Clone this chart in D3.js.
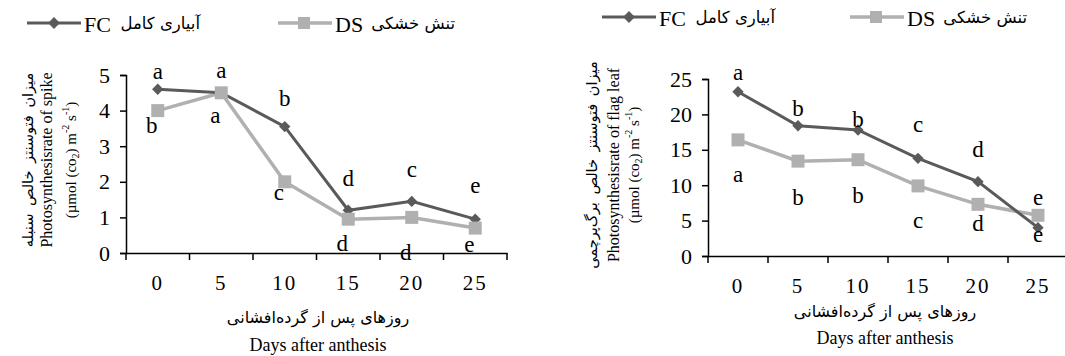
<!DOCTYPE html>
<html>
<head>
<meta charset="utf-8">
<script src="https://cdn.jsdelivr.net/npm/d3@7"></script>
<style>
  body { margin: 0; background: #fff; }
  svg { display: block; }
  text { font-family: "Liberation Serif", "DejaVu Serif", serif; fill: #000; }
  text.fa { font-family: "DejaVu Sans", sans-serif; }
</style>
</head>
<body>
<div id="chart"></div>
<script>
// categories (days after anthesis)
const days = ['0', '5', '10', '15', '20', '25'];

// spike photosynthesis
const spikeFC = [4.6, 4.5, 3.55, 1.2, 1.45, 0.95];
const spikeDS = [4.0, 4.5, 2.0, 0.95, 1.0, 0.7];
const spikeFCLetters = ['a', 'a', 'b', 'd', 'c', 'e'];
const spikeDSLetters = ['b', 'a', 'c', 'd', 'd', 'e'];
const spikeFCLetterAt = [4.9, 4.92, 4.14, 1.89, 2.14, 1.69];
const spikeDSLetterAt = [3.38, 3.66, 1.5, 0.06, -0.19, 0.04];
const spikeTicks = [0, 1, 2, 3, 4, 5];

// flag leaf photosynthesis
const leafFC = [23.2, 18.4, 17.8, 13.8, 10.5, 4.0];
const leafDS = [16.4, 13.4, 13.6, 9.9, 7.3, 5.75];
const leafFCLetters = ['a', 'b', 'b', 'c', 'd', 'e'];
const leafDSLetters = ['a', 'b', 'b', 'c', 'd', 'e'];
const leafFCLetterAt = [24.85, 19.76, 18.2, 17.5, 13.96, 1.94];
const leafDSLetterAt = [10.4, 7.17, 7.45, 3.92, 3.5, 7.17];
const leafTicks = [0, 5, 10, 15, 20, 25];

const fcName = 'آبیاری کامل';
const dsName = 'تنش خشکی';
const xTitleFa = 'روزهای پس از گرده‌افشانی';
const xTitleEn = 'Days after anthesis';

const fcColor = '#5a5a5a';
const dsColor = '#b0b0b0';
const serif = '"Liberation Serif", serif';

const svg = d3.select('#chart').append('svg')
  .attr('width', 1065)
  .attr('height', 356);

function drawLegend(g, legendY, fcX, fcFaEnd, dsX, dsFaEnd) {
  // FC item
  g.append('line')
    .attr('x1', fcX).attr('x2', fcX + 54)
    .attr('y1', legendY).attr('y2', legendY)
    .attr('stroke', fcColor).attr('stroke-width', 3);
  g.append('path')
    .attr('d', d3.symbol(d3.symbolSquare, 70)())
    .attr('transform', `translate(${fcX + 27},${legendY}) rotate(45)`)
    .attr('fill', fcColor);
  g.append('text')
    .attr('x', fcX + 57).attr('y', legendY + 9)
    .style('font-size', '22px')
    .text('FC');
  g.append('text')
    .attr('class', 'fa')
    .attr('x', fcFaEnd).attr('y', legendY + 6)
    .attr('text-anchor', 'end')
    .style('font-size', '16.5px')
    .text(fcName);

  // DS item
  g.append('line')
    .attr('x1', dsX).attr('x2', dsX + 54)
    .attr('y1', legendY).attr('y2', legendY)
    .attr('stroke', dsColor).attr('stroke-width', 3.5);
  g.append('path')
    .attr('d', d3.symbol(d3.symbolSquare, 144)())
    .attr('transform', `translate(${dsX + 26},${legendY})`)
    .attr('fill', dsColor);
  g.append('text')
    .attr('x', dsX + 57).attr('y', legendY + 9)
    .style('font-size', '22px')
    .text('DS');
  g.append('text')
    .attr('class', 'fa')
    .attr('x', dsFaEnd).attr('y', legendY + 6)
    .attr('text-anchor', 'end')
    .style('font-size', '16.5px')
    .text(dsName);
}

function drawPanel(opt) {
  const g = svg.append('g');

  const x = d3.scaleBand()
    .domain(days)
    .range([opt.left, opt.right])
    .padding(0);

  const y = d3.scaleLinear()
    .domain([0, opt.ticks[opt.ticks.length - 1]])
    .range([opt.bottom, opt.top]);

  const cx = d => x(d) + x.bandwidth() / 2;

  // y axis
  const yAxis = g.append('g')
    .attr('transform', `translate(${opt.left},0)`)
    .attr('font-family', serif)
    .call(d3.axisLeft(y).tickValues(opt.ticks).tickFormat(d3.format('d'))
      .tickSize(6).tickPadding(10));
  yAxis.select('.domain').attr('stroke', '#000').attr('stroke-width', 1.5);
  yAxis.selectAll('.tick line').attr('stroke', '#000').attr('stroke-width', 1.5);
  yAxis.selectAll('.tick text')
    .attr('fill', '#000')
    .style('font-size', '22px');

  // x axis: labels at category centres, ticks at band edges
  const xAxis = g.append('g')
    .attr('transform', `translate(0,${opt.bottom})`)
    .attr('font-family', serif)
    .call(d3.axisBottom(x).tickSize(0).tickPadding(22));
  xAxis.select('.domain').attr('stroke', '#000').attr('stroke-width', 1.5);
  xAxis.selectAll('.tick text')
    .attr('fill', '#000')
    .style('font-size', '21px')
    .style('letter-spacing', '2px');
  const edges = days.map(d => x(d)).concat([opt.right]);
  xAxis.selectAll('.edge')
    .data(edges)
    .enter()
    .append('line')
    .attr('class', 'edge')
    .attr('x1', d => d).attr('x2', d => d)
    .attr('y1', 0).attr('y2', 7)
    .attr('stroke', '#000').attr('stroke-width', 1.5);

  const line = d3.line()
    .x((d, i) => cx(days[i]))
    .y(d => y(d));

  // DS series
  g.append('path')
    .datum(opt.ds)
    .attr('d', line)
    .attr('fill', 'none')
    .attr('stroke', dsColor)
    .attr('stroke-width', 3.5);

  // FC series
  g.append('path')
    .datum(opt.fc)
    .attr('d', line)
    .attr('fill', 'none')
    .attr('stroke', fcColor)
    .attr('stroke-width', 3);

  g.selectAll('.fc-mark')
    .data(opt.fc)
    .enter()
    .append('path')
    .attr('class', 'fc-mark')
    .attr('d', d3.symbol(d3.symbolSquare, 64)())
    .attr('transform', (d, i) => `translate(${cx(days[i])},${y(d)}) rotate(45)`)
    .attr('fill', fcColor);

  g.selectAll('.ds-mark')
    .data(opt.ds)
    .enter()
    .append('path')
    .attr('class', 'ds-mark')
    .attr('d', d3.symbol(d3.symbolSquare, 169)())
    .attr('transform', (d, i) => `translate(${cx(days[i])},${y(d)})`)
    .attr('fill', dsColor);

  // significance letters
  g.selectAll('.fc-letter')
    .data(opt.fcLetterAt)
    .enter()
    .append('text')
    .attr('class', 'fc-letter')
    .attr('x', (d, i) => cx(days[i]))
    .attr('y', d => y(d))
    .attr('text-anchor', 'middle')
    .style('font-size', '23px')
    .text((d, i) => opt.fcLetters[i]);

  g.selectAll('.ds-letter')
    .data(opt.dsLetterAt)
    .enter()
    .append('text')
    .attr('class', 'ds-letter')
    .attr('x', (d, i) => cx(days[i]) + opt.dsShift)
    .attr('y', d => y(d))
    .attr('text-anchor', 'middle')
    .style('font-size', '23px')
    .text((d, i) => opt.dsLetters[i]);

  // y title (three rotated lines)
  const yt = g.append('g')
    .attr('transform', `translate(0,${opt.yTitleMid}) rotate(-90)`);
  yt.append('text')
    .attr('class', 'fa')
    .attr('x', 0).attr('y', opt.yTitleX[0])
    .attr('text-anchor', 'middle')
    .attr('dominant-baseline', 'central')
    .style('font-size', '14.5px')
    .style('word-spacing', '3px')
    .text(opt.yTitleFa);
  yt.append('text')
    .attr('x', 0).attr('y', opt.yTitleX[1])
    .attr('text-anchor', 'middle')
    .attr('dominant-baseline', 'central')
    .style('font-size', '16px')
    .text(opt.yTitleEn);
  const unit = yt.append('text')
    .attr('x', 0).attr('y', opt.yTitleX[2])
    .attr('text-anchor', 'middle')
    .attr('dominant-baseline', 'central')
    .style('font-size', '15px');
  unit.append('tspan').text('(µmol (co');
  unit.append('tspan').attr('dy', 4).style('font-size', '10px').text('2');
  unit.append('tspan').attr('dy', -4).text(') m');
  unit.append('tspan').attr('dy', -6).style('font-size', '10px').text('-2');
  unit.append('tspan').attr('dy', 6).text(' s');
  unit.append('tspan').attr('dy', -6).style('font-size', '10px').text('-1');
  unit.append('tspan').attr('dy', 6).text(')');

  // x titles
  g.append('text')
    .attr('class', 'fa')
    .attr('x', opt.xTitleX).attr('y', opt.xTitleY[0])
    .attr('text-anchor', 'middle')
    .style('font-size', '16px')
    .text(xTitleFa);
  g.append('text')
    .attr('x', opt.xTitleX).attr('y', opt.xTitleY[1])
    .attr('text-anchor', 'middle')
    .style('font-size', '18px')
    .text(xTitleEn);
}

drawLegend(svg.append('g'), 23, 27, 200, 278, 455);
drawLegend(svg.append('g'), 17, 602, 775, 850, 1027);

drawPanel({
  left: 126, right: 507, top: 75, bottom: 253,
  ticks: spikeTicks,
  fc: spikeFC, ds: spikeDS,
  fcLetters: spikeFCLetters, dsLetters: spikeDSLetters,
  fcLetterAt: spikeFCLetterAt, dsLetterAt: spikeDSLetterAt,
  dsShift: -6,
  yTitleMid: 160, yTitleX: [28, 46, 71],
  yTitleFa: 'میزان فتوسنتز خالص سنبله',
  yTitleEn: 'Photosynthesisrate of spike',
  xTitleX: 318, xTitleY: [323, 351]
});

drawPanel({
  left: 708, right: 1068, top: 79, bottom: 256,
  ticks: leafTicks,
  fc: leafFC, ds: leafDS,
  fcLetters: leafFCLetters, dsLetters: leafDSLetters,
  fcLetterAt: leafFCLetterAt, dsLetterAt: leafDSLetterAt,
  dsShift: 0,
  yTitleMid: 165, yTitleX: [592, 613, 634],
  yTitleFa: 'میزان فتوسنتز خالص برگ‌پرچمی',
  yTitleEn: 'Photosynthesisrate of flag leaf',
  xTitleX: 885, xTitleY: [317, 344]
});
</script>
</body>
</html>
